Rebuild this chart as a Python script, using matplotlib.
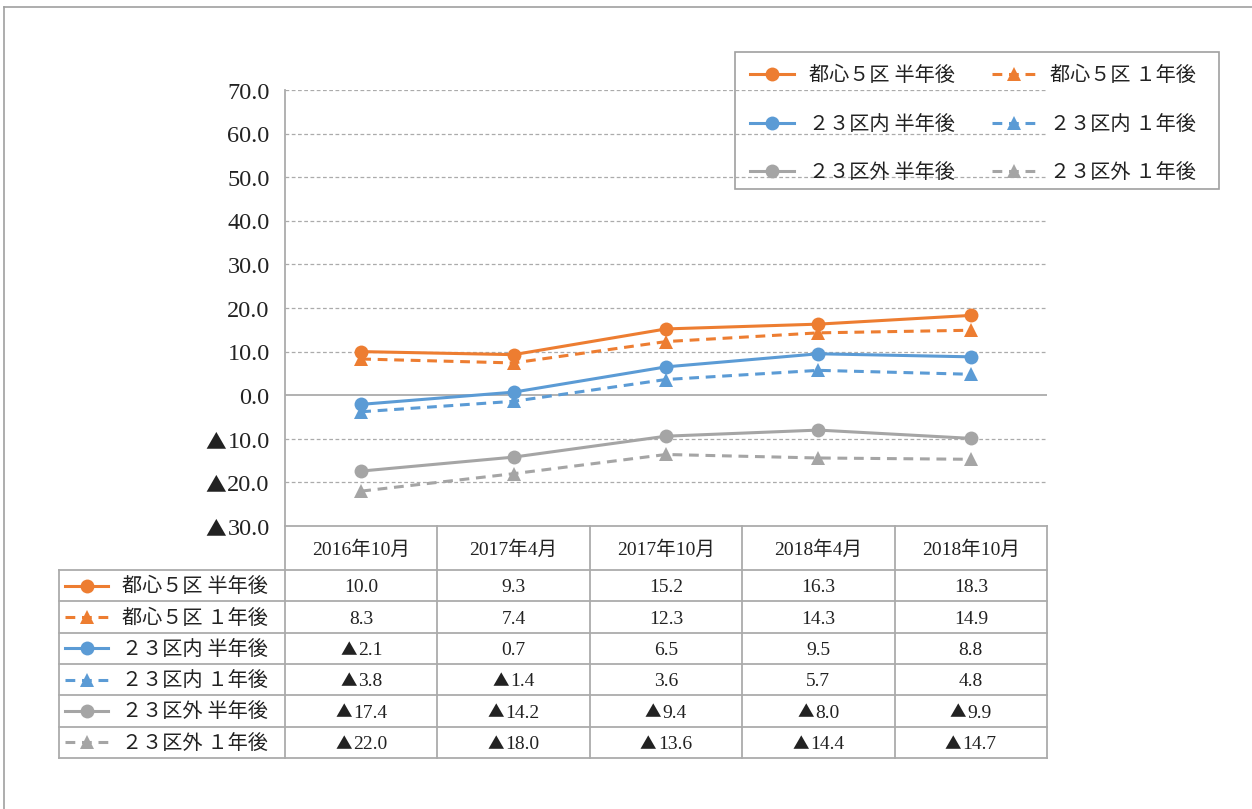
#!/usr/bin/env python3
"""Line chart with an Excel-style data table underneath."""
import matplotlib

matplotlib.use("Agg")
import matplotlib.pyplot as plt
import matplotlib.transforms as mtrans
from matplotlib.lines import Line2D
from matplotlib.offsetbox import AnnotationBbox, HPacker, TextArea
from matplotlib.patches import Rectangle
import numpy as np

# ---------------------------------------------------------------------------
# Data
# ---------------------------------------------------------------------------
periods = ["2016年10月", "2017年4月", "2017年10月", "2018年4月", "2018年10月"]

toshin_half = [10.0, 9.3, 15.2, 16.3, 18.3]
toshin_year = [8.3, 7.4, 12.3, 14.3, 14.9]
ku23in_half = [-2.1, 0.7, 6.5, 9.5, 8.8]
ku23in_year = [-3.8, -1.4, 3.6, 5.7, 4.8]
ku23out_half = [-17.4, -14.2, -9.4, -8.0, -9.9]
ku23out_year = [-22.0, -18.0, -13.6, -14.4, -14.7]

labels = [
    "都心５区 半年後", "都心５区 １年後",
    "２３区内 半年後", "２３区内 １年後",
    "２３区外 半年後", "２３区外 １年後",
]
y_ticks = [-30, -20, -10, 0, 10, 20, 30, 40, 50, 60, 70]

ORANGE = "#ED7D31"
BLUE = "#5B9BD5"
GRAY = "#A5A5A5"
GRID = "#ABABAB"
INK = "#222222"
DASH = (0, (3.2, 2.2))

SERIES = [
    (toshin_half, ORANGE, "-", "o"),
    (toshin_year, ORANGE, DASH, "^"),
    (ku23in_half, BLUE, "-", "o"),
    (ku23in_year, BLUE, DASH, "^"),
    (ku23out_half, GRAY, "-", "o"),
    (ku23out_year, GRAY, DASH, "^"),
]

SERIF = "Liberation Serif"
CJK = "Noto Sans CJK JP"
plt.rcParams["font.family"] = [SERIF, CJK]


def value_box(v, size):
    """Number with a full-width ▲ for negatives (Japanese minus style)."""
    parts = []
    if v < 0:
        parts.append(TextArea("▲", textprops=dict(family=[CJK], fontsize=size * 0.85,
                                                  color=INK)))
    parts.append(TextArea(f"{abs(v):.1f}", textprops=dict(family=[SERIF],
                                                          fontsize=size, color=INK)))
    return HPacker(children=parts, align="baseline", pad=0, sep=1)


def put_value(axes, v, xy, transform, size, halign=0.5, offset=(0, 0)):
    ab = AnnotationBbox(value_box(v, size), xy, xycoords=transform,
                        xybox=offset, boxcoords="offset points",
                        box_alignment=(halign, 0.5), frameon=False, pad=0,
                        annotation_clip=False)
    axes.add_artist(ab)


# ---------------------------------------------------------------------------
# Layout (pixels)
# ---------------------------------------------------------------------------
W, H = 1252, 809
PL, PR, PT, PB = 285, 1047, 90, 526      # plot area
TAB_L = 59
HEADER_B = 570
ROW_H = 31.3

fig = plt.figure(figsize=(W / 100, H / 100), dpi=100)

# pixel overlay for frame + table
ov = fig.add_axes([0, 0, 1, 1], zorder=0)
ov.set_xlim(0, W)
ov.set_ylim(H, 0)
ov.axis("off")

ax = fig.add_axes([PL / W, 1 - PB / H, (PR - PL) / W, (PB - PT) / H], zorder=1)
ax.set_facecolor("none")

x = np.arange(len(periods))
for vals, color, ls, mk in SERIES:
    ax.plot(x, vals, color=color, linestyle=ls, linewidth=2.2,
            marker=mk, markersize=10 if mk == "o" else 10.5,
            markeredgewidth=0, zorder=3)

ax.set_xlim(-0.5, len(periods) - 0.5)
ax.set_ylim(-30, 70)
ax.set_yticks(y_ticks)
ax.set_yticklabels([])
ax.set_xticks([])
ax.tick_params(axis="y", length=0)
for t in y_ticks:
    put_value(ax, t, (0, t), ax.get_yaxis_transform(), 17.5,
              halign=1.0, offset=(-11, -2.2))
    if t in (-30, 0):
        continue
    ax.axhline(t, color=GRID, linewidth=0.9, linestyle=(0, (3, 2)), zorder=1)
ax.axhline(0, color=GRID, linewidth=1.3, zorder=1)
for s in ("top", "right"):
    ax.spines[s].set_visible(False)
for s in ("left", "bottom"):
    ax.spines[s].set_color(GRID)
    ax.spines[s].set_linewidth(1.3)

# outer frame (top + left edges visible)
ov.plot([4, W], [7, 7], color="#A0A0A0", linewidth=1.2)
ov.plot([4, 4], [7, H], color="#A0A0A0", linewidth=1.2)

# ---------------------------------------------------------------------------
# Data table
# ---------------------------------------------------------------------------
bt = mtrans.blended_transform_factory(ax.transData, ov.transData)
col_w = (PR - PL) / len(periods)
n_rows = len(SERIES)
row_edges = [HEADER_B + ROW_H * i for i in range(n_rows + 1)]
TAB_B = row_edges[-1]

for i in range(len(periods) + 1):
    xx = PL + col_w * i
    ov.plot([xx, xx], [PB, TAB_B], color=GRID, linewidth=1.3)
ov.plot([TAB_L, TAB_L], [HEADER_B, TAB_B], color=GRID, linewidth=1.3)
for yy in row_edges:
    ov.plot([TAB_L, PR], [yy, yy], color=GRID, linewidth=1.3)

for i, p in enumerate(periods):
    ov.text(i, (PB + HEADER_B) / 2 + 1.5, p, transform=bt, ha="center",
            va="center", fontsize=14, color=INK)

for r, ((vals, color, ls, mk), lab) in enumerate(zip(SERIES, labels)):
    yc = (row_edges[r] + row_edges[r + 1]) / 2
    ov.plot([65, 108], [yc, yc], color=color, linestyle=ls, linewidth=2.2)
    ov.plot([86.5], [yc], color=color, marker=mk, markersize=10,
            markeredgewidth=0)
    ov.text(122, yc + 2, lab, ha="left", va="center", fontsize=14.5, color=INK)
    for i, v in enumerate(vals):
        put_value(ov, v, (i, yc), bt, 14, offset=(0, -1.6))

# ---------------------------------------------------------------------------
# Legend (row-wise order: half-year | one-year)
# ---------------------------------------------------------------------------
ov.add_patch(Rectangle((735, 52), 1219 - 735, 189 - 52, facecolor="white",
                       edgecolor="#A0A0A0", linewidth=1.2, zorder=5))
handles = [
    Line2D([0], [0], color=c, linestyle=ls, linewidth=2.2, marker=mk,
           markersize=10, markeredgewidth=0)
    for _, c, ls, mk in SERIES
]
order = [0, 2, 4, 1, 3, 5]
leg = fig.legend([handles[i] for i in order], [labels[i] for i in order],
                 ncol=2, loc="upper left", bbox_to_anchor=(735 / W, 1 - 52 / H),
                 borderaxespad=0, frameon=False, fontsize=14.5,
                 handlelength=2.2, handletextpad=0.7, columnspacing=1.85,
                 labelspacing=1.45, borderpad=0.75)
leg.set_zorder(6)
for t in leg.get_texts():
    t.set_color(INK)

fig.savefig("out.png", dpi=100)
